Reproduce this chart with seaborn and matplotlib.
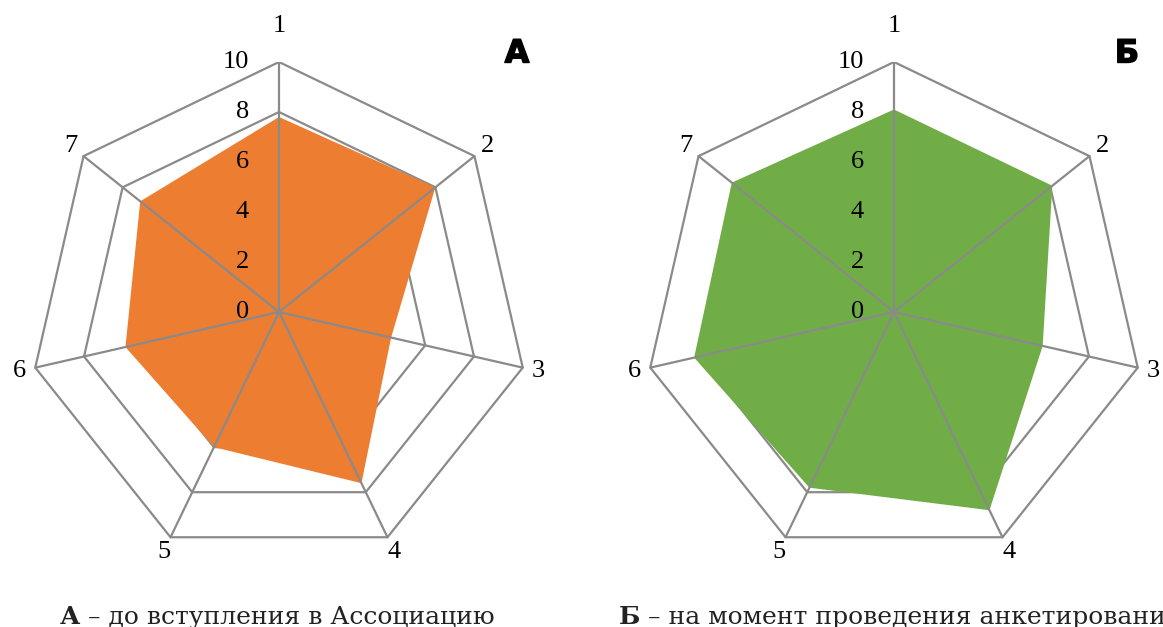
import numpy as np
import matplotlib
matplotlib.use("Agg")
import matplotlib.pyplot as plt
import matplotlib.patheffects as pe
import seaborn as sns

# ---- data ----
categories = ["1", "2", "3", "4", "5", "6", "7"]
values_a = [7.8, 8.0, 4.6, 7.6, 6.0, 6.3, 7.1]
values_b = [8.1, 8.1, 6.1, 8.8, 7.8, 8.2, 8.3]
ticks = [0, 2, 4, 6, 8, 10]
panel_letters = ["А", "Б"]
caption_a = " – до вступления в Ассоциацию"
caption_b = " – на момент проведения анкетирования"

ORANGE = "#ED7D31"
GREEN = "#70AD47"
GRID = "#8a8a8a"

sns.set_theme(style="white")
plt.rcParams["font.family"] = ["Liberation Serif", "DejaVu Serif"]
plt.rcParams["text.color"] = "black"

W, H = 1163, 627
fig = plt.figure(figsize=(W / 100, H / 100), dpi=100)

n = len(categories)
theta = np.arange(n) * 2 * np.pi / n


def to_xy(r, th):
    return np.asarray(r) * np.sin(th), np.asarray(r) * np.cos(th)


def radar(ax, vals, color):
    ax.set_xlim(-10, 10)
    ax.set_ylim(-10, 10)
    ax.set_aspect("equal")
    ax.axis("off")
    th_c = np.append(theta, theta[0])
    # rings
    for t in ticks[1:]:
        x, y = to_xy(np.full(n + 1, t), th_c)
        ax.plot(x, y, color=GRID, lw=1.6, zorder=1, solid_joinstyle="miter")
    # filled series
    x, y = to_xy(np.append(vals, vals[0]), th_c)
    ax.fill(x, y, color=color, lw=0, zorder=2)
    # spokes
    for th in theta:
        x, y = to_xy([0, 10], [th, th])
        ax.plot(x, y, color=GRID, lw=1.6, zorder=3)
    # tick labels
    for t in ticks:
        ax.text(-1.2, t, str(t), ha="right", va="center", fontsize=19,
                color="black", zorder=4)
    # category labels
    for i, (c, th) in enumerate(zip(categories, theta)):
        rr = 11.45 if i == 0 else 10.65
        x, y = to_xy(rr, th)
        ax.text(x, y, c, ha="center", va="center", fontsize=19,
                color="black", zorder=4)


ax_a = fig.add_axes([29 / W, (H - 562) / H, 500 / W, 500 / H])
radar(ax_a, values_a, ORANGE)
ax_b = fig.add_axes([644 / W, (H - 562) / H, 500 / W, 500 / H])
radar(ax_b, values_b, GREEN)

# panel letters
for letter, xc in zip(panel_letters, [517, 1127]):
    fig.text(xc / W, 1 - 54 / H, letter, ha="center", va="center",
             fontsize=23, fontweight="bold", family=["DejaVu Sans"],
             color="black",
             path_effects=[pe.withStroke(linewidth=1.0, foreground="black")])

# captions with bold leading letter
renderer = fig.canvas.get_renderer()
cap_fs = 18
base_y = 1 - 624 / H
for letter, rest, x0 in zip(panel_letters, [caption_a, caption_b], [60, 619]):
    t1 = fig.text(x0 / W, base_y, letter, ha="left", va="baseline",
                  fontsize=cap_fs, fontweight="bold",
                  family=["DejaVu Serif"], color="#222222")
    bb = t1.get_window_extent(renderer)
    fig.text(bb.x1 / W, base_y, rest, ha="left", va="baseline",
             fontsize=cap_fs, family=["DejaVu Serif"], color="#222222")

fig.savefig("out.png", dpi=100)
